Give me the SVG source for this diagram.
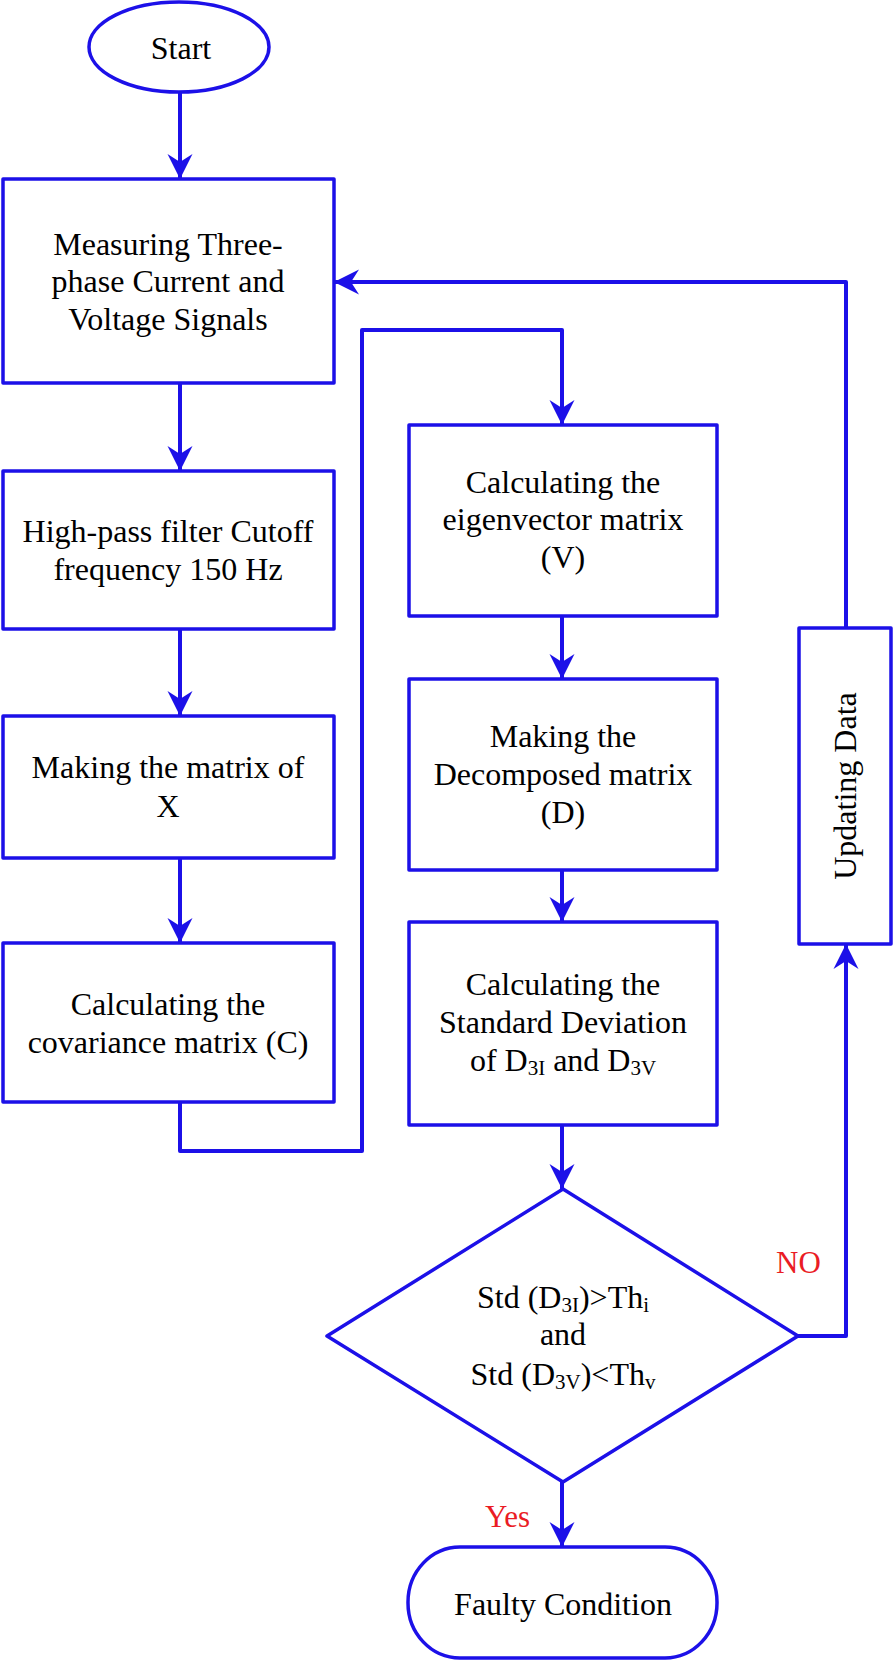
<svg xmlns="http://www.w3.org/2000/svg" width="893" height="1661" viewBox="0 0 893 1661">
<defs>
<style>
.shape{fill:#ffffff;stroke:#1c10e8;stroke-width:3.5;stroke-linejoin:round}
.conn{fill:none;stroke:#1c10e8;stroke-width:4;stroke-linejoin:round}
.t{font-family:"Liberation Serif","Times New Roman",serif;font-size:32px;fill:#000;text-anchor:middle}
.lbl{font-family:"Liberation Serif","Times New Roman",serif;font-size:31px;fill:#ea1c24}
.sub{font-size:21px}
</style>
<marker id="arr" viewBox="-26 -14 28 28" refX="0" refY="0" markerWidth="28" markerHeight="28" markerUnits="userSpaceOnUse" orient="auto">
<path d="M0,0 L-25,-12.5 L-17,0 L-25,12.5 Z" fill="#1c10e8"/>
</marker>
</defs>
<rect width="893" height="1661" fill="#ffffff"/>

<g id="connectors">
<path class="conn" d="M180,92 V179" marker-end="url(#arr)"/>
<path class="conn" d="M180,383 V471" marker-end="url(#arr)"/>
<path class="conn" d="M180,629 V716" marker-end="url(#arr)"/>
<path class="conn" d="M180,858 V943" marker-end="url(#arr)"/>
<path class="conn" d="M180,1102 V1151 H362 V330 H562 V425" marker-end="url(#arr)"/>
<path class="conn" d="M562,616 V679" marker-end="url(#arr)"/>
<path class="conn" d="M562,870 V922" marker-end="url(#arr)"/>
<path class="conn" d="M562,1125 V1189" marker-end="url(#arr)"/>
<path class="conn" d="M562,1482 V1547" marker-end="url(#arr)"/>
<path class="conn" d="M798,1336 H846 V944" marker-end="url(#arr)"/>
<path class="conn" d="M846,628 V282 H334" marker-end="url(#arr)"/>
<text class="lbl" x="485" y="1527">Yes</text>
<text class="lbl" x="776" y="1273">NO</text>
</g>

<g id="start">
<ellipse class="shape" cx="179" cy="47" rx="90" ry="45"/>
<text class="t" x="181" y="59">Start</text>
</g>

<g id="measure">
<rect class="shape" x="3" y="179" width="331" height="204"/>
<text class="t" x="168" y="255">Measuring Three-</text>
<text class="t" x="168" y="292">phase Current and</text>
<text class="t" x="168" y="330">Voltage Signals</text>
</g>

<g id="highpass">
<rect class="shape" x="3" y="471" width="331" height="158"/>
<text class="t" x="168" y="542">High-pass filter Cutoff</text>
<text class="t" x="168" y="580">frequency 150 Hz</text>
</g>

<g id="matrixX">
<rect class="shape" x="3" y="716" width="331" height="142"/>
<text class="t" x="168" y="778">Making the matrix of</text>
<text class="t" x="168" y="817">X</text>
</g>

<g id="covariance">
<rect class="shape" x="3" y="943" width="331" height="159"/>
<text class="t" x="168" y="1015">Calculating the</text>
<text class="t" x="168" y="1053">covariance matrix (C)</text>
</g>

<g id="eigen">
<rect class="shape" x="409" y="425" width="308" height="191"/>
<text class="t" x="563" y="493">Calculating the</text>
<text class="t" x="563" y="530">eigenvector matrix</text>
<text class="t" x="563" y="568">(V)</text>
</g>

<g id="decomposed">
<rect class="shape" x="409" y="679" width="308" height="191"/>
<text class="t" x="563" y="747">Making the</text>
<text class="t" x="563" y="785">Decomposed matrix</text>
<text class="t" x="563" y="823">(D)</text>
</g>

<g id="stddev">
<rect class="shape" x="409" y="922" width="308" height="203"/>
<text class="t" x="563" y="995">Calculating the</text>
<text class="t" x="563" y="1033">Standard Deviation</text>
<text class="t" x="563" y="1071">of D<tspan class="sub" dy="4">3I</tspan><tspan dy="-4"> and D</tspan><tspan class="sub" dy="4">3V</tspan></text>
</g>

<g id="decision">
<polygon class="shape" points="563,1189 798,1336 563,1482 327,1336"/>
<text class="t" x="563" y="1308">Std (D<tspan class="sub" dy="4">3I</tspan><tspan dy="-4">)&gt;Th</tspan><tspan class="sub" dy="4">i</tspan></text>
<text class="t" x="563" y="1345">and</text>
<text class="t" x="563" y="1385">Std (D<tspan class="sub" dy="4">3V</tspan><tspan dy="-4">)&lt;Th</tspan><tspan class="sub" dy="4">v</tspan></text>
</g>

<g id="faulty">
<rect class="shape" x="408" y="1547" width="309" height="111" rx="52" ry="55"/>
<text class="t" x="563" y="1615">Faulty Condition</text>
</g>

<g id="update">
<rect class="shape" x="799" y="628" width="92" height="316"/>
<text class="t" x="856" y="786" transform="rotate(-90 856 786)">Updating Data</text>
</g>
</svg>
